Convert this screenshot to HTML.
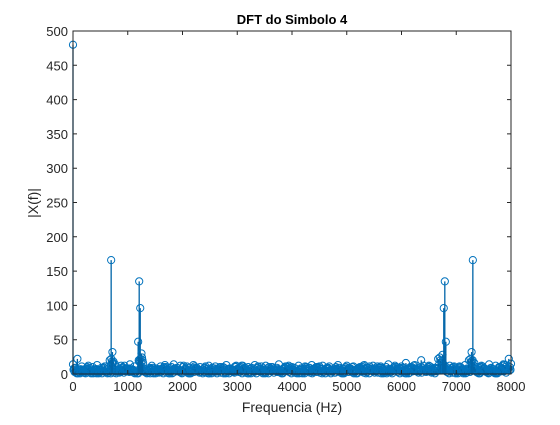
<!DOCTYPE html>
<html><head><meta charset="utf-8"><style>
body{margin:0;background:#fff;}
svg text{font-family:"Liberation Sans",sans-serif;fill:#262626;}
</style></head><body>
<svg id="chart" width="560" height="420" xmlns="http://www.w3.org/2000/svg">
<rect width="560" height="420" fill="#fff"/>
<g id="marks"></g>
<g id="axes"></g>
<text x="292" y="24" font-size="13" font-weight="bold" text-anchor="middle" style="fill:#000">DFT do Simbolo 4</text>
<text x="292" y="412" font-size="14" text-anchor="middle">Frequencia (Hz)</text>
<text transform="translate(38,203) rotate(-90)" font-size="14" text-anchor="middle">|X(f)|</text>
</svg>
<script>
const xTicks=[0,1000,2000,3000,4000,5000,6000,7000,8000];
const yTicks=[0,50,100,150,200,250,300,350,400,450,500];
const noiseStep=40;
const noiseVals=[14,9,22,6,11,4,8,12,5,10,7,13,6,9,4,11,8,5,15,7,
10,6,12,9,4,8,14,6,11,5,20,10,16,7,5,9,12,6,8,4,
11,7,13,5,9,10,14,6,8,12,5,7,11,9,4,13,8,6,10,5,
9,7,12,4,8,11,6,10,5,9,13,7,8,4,11,6,9,12,5,8,
10,7,6,13,9,4,11,8,12,5,7,10,6,9,14,5,8,11,7,6,
10,9,5,12,8,6,11,4,9,13,7,10,5,8,12,6,9,11,4,7,
10,13,6,8,5,12,9,7,11,4,8,10,6,13,9,5,7,12,8,11,
6,9,4,10,14,7,8,12,5,9,11,6,16,8,10,5,13,7,9,20,
12,6,8,11,4,9,7,13,5,10,8,6,12,9,11,4,7,10,6,13,
8,5,9,12,7,10,6,11,8,4,14,9,7,12,5,10,8,13,6,22,15];
const noiseStep2=80;
const noiseVals2=[8,3,6,10,2,7,5,11,4,18,6,6,8,8,3,20,7,4,9,6,
5,10,3,8,6,12,4,7,9,5,11,3,8,6,10,4,7,12,5,9,
3,8,11,6,4,10,7,5,9,12,6,3,8,10,4,7,11,5,9,6,
8,4,10,7,3,9,12,5,8,6,11,4,7,10,5,9,3,8,8,6,
7,12,5,9,18,10,6,8,11,3,7,20,5,12,6,8,4,10,14,9];
const noiseVals3=[5,7,4,9,6,3,8,5,22,4,7,12,7,6,5,24,5,8,3,7,
10,4,6,9,5,8,3,11,6,7,4,9,5,10,3,8,6,7,12,4,
9,5,8,3,10,6,7,4,11,5,8,6,3,9,7,10,4,8,5,6,
9,3,7,10,5,8,4,11,6,9,3,7,5,10,8,4,6,12,6,9,
8,6,8,24,9,5,10,3,7,6,22,11,4,9,5,7,3,8,6,10];
const peakFreqs=[0,697,720,1190,1209,1228,1250,6750,6772,6791,6810,7280,7303];
const peakVals=[480,166,32,47,135,96,30,28,96,135,47,32,166];
const X0=73,X1=511,Y0=374,Y1=31;
const sx=f=>X0+(f/8000)*(X1-X0);
const sy=v=>Y0-(v/500)*(Y0-Y1);
const NS="http://www.w3.org/2000/svg";
const marks=document.getElementById('marks');
function stem(f,v){
  const l=document.createElementNS(NS,'line');
  
  
  l.setAttribute('x1',sx(f));l.setAttribute('x2',sx(f));
  l.setAttribute('y1',sy(0));l.setAttribute('y2',sy(v));
  l.setAttribute('stroke','#0064a8');l.setAttribute('stroke-width','1.3');
  marks.appendChild(l);
  const c=document.createElementNS(NS,'circle');
  
  
  c.setAttribute('cx',sx(f));c.setAttribute('cy',sy(v));c.setAttribute('r','3.6');
  c.setAttribute('fill','none');c.setAttribute('stroke','#0072BD');c.setAttribute('stroke-width','1');
  marks.appendChild(c);
}
noiseVals.forEach((v,i)=>stem(i*noiseStep,v));
noiseVals2.forEach((v,i)=>stem(i*noiseStep2+20,v));
noiseVals3.forEach((v,i)=>stem(i*noiseStep2+60,v));
noiseVals2.forEach((v,i)=>stem(i*noiseStep2+10,Math.max(1,v-2)));
noiseVals3.forEach((v,i)=>stem(i*noiseStep2+30,Math.max(1,v-2)));
noiseVals2.forEach((v,i)=>stem(i*noiseStep2+50,Math.max(1,v-4)));
noiseVals3.forEach((v,i)=>stem(i*noiseStep2+70,Math.max(1,v-4)));
peakFreqs.forEach((f,i)=>stem(f,peakVals[i]));
const axes=document.getElementById('axes');
axes.innerHTML='<rect x="'+X0+'" y="'+Y1+'" width="'+(X1-X0)+'" height="'+(Y0-Y1)+'" fill="none" stroke="#262626" stroke-width="1"/>';
xTicks.forEach(t=>{
  const x=sx(t);
  const a=document.createElementNS(NS,'path');
  
  
  a.setAttribute('d','M'+x+' '+Y0+'v-4M'+x+' '+Y1+'v4');
  a.setAttribute('stroke','#262626');
  axes.appendChild(a);
  const tx=document.createElementNS(NS,'text');
  
  
  tx.setAttribute('x',x);tx.setAttribute('y',Y0+17);
  tx.setAttribute('font-size','13');tx.setAttribute('text-anchor','middle');
  tx.textContent=t;axes.appendChild(tx);
});
yTicks.forEach(t=>{
  const y=sy(t);
  const a=document.createElementNS(NS,'path');
  
  
  a.setAttribute('d','M'+X0+' '+y+'h4M'+X1+' '+y+'h-4');
  a.setAttribute('stroke','#262626');
  axes.appendChild(a);
  const tx=document.createElementNS(NS,'text');
  
  
  tx.setAttribute('x',X0-5);tx.setAttribute('y',y+5);
  tx.setAttribute('font-size','13');tx.setAttribute('text-anchor','end');
  tx.textContent=t;axes.appendChild(tx);
});
</script>
</body></html>
